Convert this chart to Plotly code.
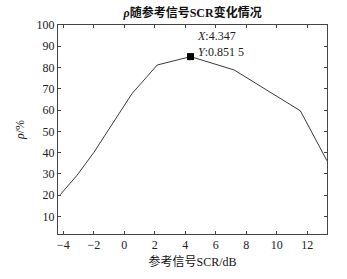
import plotly.graph_objects as go

scr = [-4.2, -3.1, -2.0, 0.5, 2.16, 4.347, 7.2, 11.55, 13.3]
rho = [20.3, 29.4, 40.1, 67.7, 81.2, 85.15, 78.9, 59.7, 36.2]
peak_x = 4.347
peak_y = 85.15
x_ticks = [-4, -2, 0, 2, 4, 6, 8, 10, 12]
y_ticks = [10, 20, 30, 40, 50, 60, 70, 80, 90, 100]

font_fam = "Liberation Serif, Noto Sans CJK SC, serif"

fig = go.Figure()
fig.add_trace(go.Scatter(x=scr, y=rho, mode="lines",
                         line=dict(color="#3a3a3a", width=1), hoverinfo="skip"))
fig.add_trace(go.Scatter(x=[peak_x], y=[peak_y], mode="markers",
                         marker=dict(symbol="square", size=7, color="black"),
                         hoverinfo="skip"))
fig.add_annotation(x=peak_x, y=peak_y, xref="x", yref="y",
                   text="<i>X</i>:4.347<br><i>Y</i>:0.851 5",
                   showarrow=False, xanchor="left", yanchor="bottom",
                   xshift=4, yshift=-4, align="left",
                   font=dict(family=font_fam, size=12, color="#222"))

axis_common = dict(showgrid=False, zeroline=False, showline=True, mirror="ticks",
                   linecolor="#444", linewidth=1, ticks="inside", ticklen=3,
                   tickcolor="#444", tickfont=dict(family=font_fam, size=12, color="#222"))

fig.update_layout(
    width=347, height=279,
    margin=dict(l=58, r=20, t=25, b=41),
    paper_bgcolor="white", plot_bgcolor="white",
    showlegend=False,
    title=dict(text="<b><i>ρ</i>随参考信号SCR变化情况</b>", x=0.555, xanchor="center",
               y=0.968, yanchor="top",
               font=dict(family=font_fam, size=12, color="#111")),
    xaxis=dict(range=[-4.35, 13.3], tickvals=x_ticks,
               ticktext=[("−" + str(-v)) if v < 0 else str(v) for v in x_ticks],
               title=dict(text="参考信号SCR/dB", standoff=6,
                          font=dict(family=font_fam, size=12, color="#111")),
               **axis_common),
    yaxis=dict(range=[1.8, 100], tickvals=y_ticks,
               title=dict(text="<i>ρ</i>/%", standoff=9,
                          font=dict(family=font_fam, size=12, color="#111")),
               **axis_common),
)

fig.write_html("out.html", config={"displayModeBar": False},
               post_script="document.body.style.margin='0px';")
